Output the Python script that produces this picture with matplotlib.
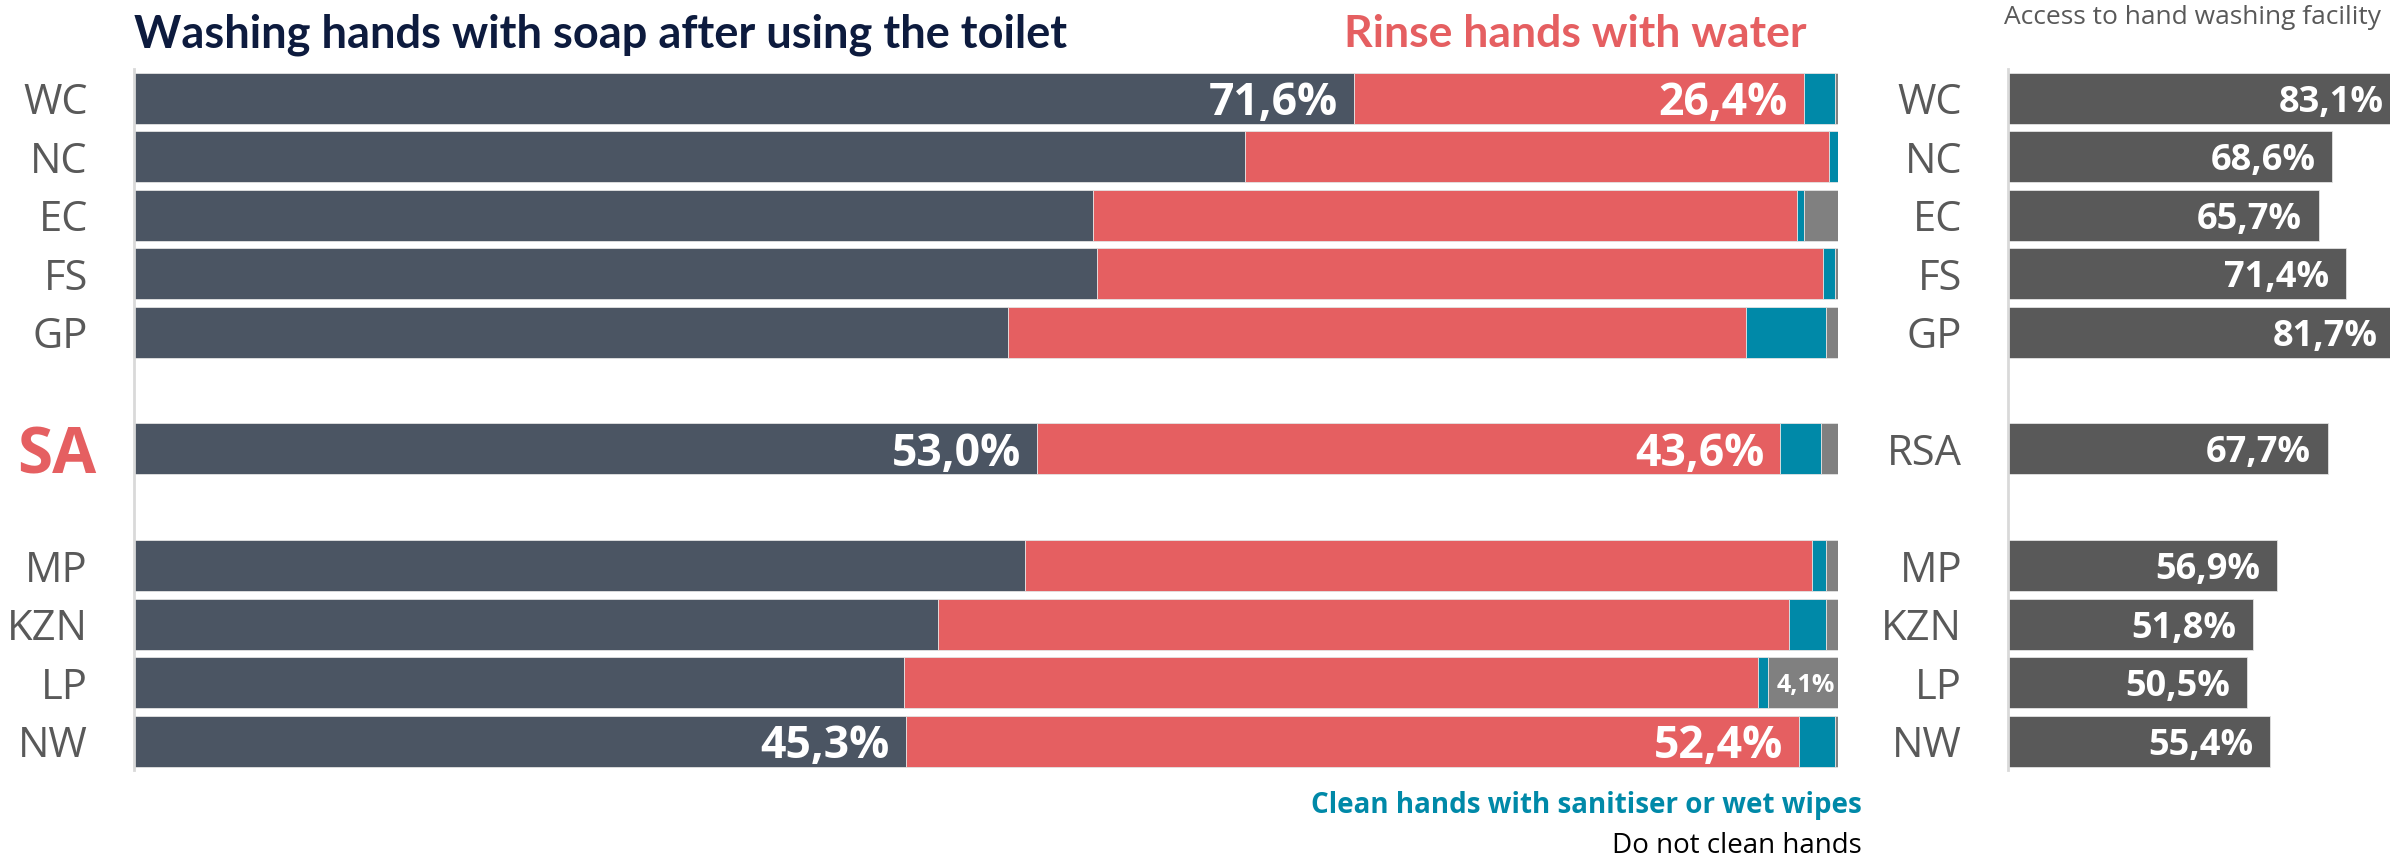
import matplotlib.pyplot as plt
import numpy as np

# provinces, top to bottom (gaps around the national figure)
regions = ["WC", "NC", "EC", "FS", "GP", "SA", "MP", "KZN", "LP", "NW"]
right_labels = ["WC", "NC", "EC", "FS", "GP", "RSA", "MP", "KZN", "LP", "NW"]
rows = [0, 1, 2, 3, 4, 6, 8, 9, 10, 11]

# % of households, how hands are cleaned after using the toilet
soap = [71.6, 65.2, 56.3, 56.5, 51.3, 53.0, 52.3, 47.2, 45.2, 45.3]
rinse = [26.4, 34.3, 41.3, 42.6, 43.3, 43.6, 46.2, 49.9, 50.1, 52.4]
sanitiser = [1.8, 0.5, 0.4, 0.7, 4.7, 2.4, 0.8, 2.2, 0.6, 2.1]
no_clean = [0.2, 0.0, 2.0, 0.2, 0.7, 1.0, 0.7, 0.7, 4.1, 0.2]

# % with access to a hand washing facility
access = [83.1, 68.6, 65.7, 71.4, 81.7, 67.7, 56.9, 51.8, 50.5, 55.4]

# which regions get value labels on the big segments
labelled = ["WC", "SA", "NW"]

c_soap = "#4B5563"
c_rinse = "#E55F61"
c_san = "#0089A8"
c_none = "#808080"
c_access = "#595959"
c_text = "#595959"

plt.rcParams["font.family"] = ["Open Sans", "DejaVu Sans"]
title_font = ["Lato", "Open Sans", "DejaVu Sans"]

fig = plt.figure(figsize=(23.9, 8.58), dpi=100)
ax = fig.add_axes([134 / 2390, 1 - 770.25 / 858, 1704 / 2390, 701 / 858])
ax2 = fig.add_axes([2008 / 2390, 1 - 770.25 / 858, 382 / 2390, 701 / 858])

y = np.array(rows)
h = 0.872
series = [soap, rinse, sanitiser, no_clean]
colors = [c_soap, c_rinse, c_san, c_none]
left = np.zeros(len(rows))
for vals, col in zip(series, colors):
    vals = np.array(vals)
    ax.barh(y, vals, left=left, height=h, color=col, edgecolor="#e3e3e3", linewidth=0.6)
    left += vals

def fmt(v):
    return f"{v:.1f}%".replace(".", ",")

off = 16 / 1704 * 100
for i, r in enumerate(regions):
    if r in labelled:
        ax.text(soap[i] - off, rows[i], fmt(soap[i]), ha="right", va="center_baseline",
                color="white", fontsize=32, fontweight="bold")
        ax.text(soap[i] + rinse[i] - off, rows[i], fmt(rinse[i]), ha="right",
                va="center_baseline", color="white", fontsize=32, fontweight="bold")
    if no_clean[i] > 3:
        ax.text(99.8, rows[i], fmt(no_clean[i]), ha="right", va="center_baseline",
                color="white", fontsize=18, fontweight="bold")

tr = ax.get_yaxis_transform()
for i, r in enumerate(regions):
    if r == "SA":
        ax.text(-0.0223, rows[i], r, transform=tr, ha="right", va="center_baseline",
                color=c_rinse, fontsize=46, fontweight="bold")
    else:
        ax.text(-0.027, rows[i], r, transform=tr, ha="right", va="center_baseline",
                color=c_text, fontsize=30)

ax.set_xlim(0, 100)
ax.set_ylim(11.5, -0.5)
ax.set_xticks([])
ax.set_yticks([])
for s in ["top", "right", "bottom"]:
    ax.spines[s].set_visible(False)
ax.spines["left"].set_color("#d9d9d9")
ax.spines["left"].set_linewidth(2)

# right panel: access to hand washing facility
ax2.barh(y, access, height=h, color=c_access, edgecolor="#e3e3e3", linewidth=0.6)
xmax = 382 / 4.73
off2 = 17 / 4.73
for i, v in enumerate(access):
    ax2.text(v - off2, rows[i], fmt(v), ha="right", va="center_baseline",
             color="white", fontsize=26, fontweight="bold")
tr2 = ax2.get_yaxis_transform()
for i, r in enumerate(right_labels):
    ax2.text(-0.1204, rows[i], r, transform=tr2, ha="right", va="center_baseline",
             color=c_text, fontsize=30)
ax2.set_xlim(0, xmax)
ax2.set_ylim(11.5, -0.5)
ax2.set_xticks([])
ax2.set_yticks([])
for s in ["top", "right", "bottom"]:
    ax2.spines[s].set_visible(False)
ax2.spines["left"].set_color("#d9d9d9")
ax2.spines["left"].set_linewidth(2)

# titles and legend-like captions
fig.text(134 / 2390, 1 - 47 / 858, "Washing hands with soap after using the toilet",
         ha="left", va="baseline", color="#0D1B3E", fontsize=32.5, fontweight="bold",
         family=title_font)
fig.text(1806 / 2390, 1 - 47 / 858, "Rinse hands with water", ha="right", va="baseline",
         color=c_rinse, fontsize=32, fontweight="bold", family=title_font)
fig.text(2381 / 2390, 1 - 17 / 858, "Access to hand washing facility", ha="right",
         va="center", color=c_text, fontsize=19)
fig.text(1862 / 2390, 1 - 805 / 858, "Clean hands with sanitiser or wet wipes", ha="right",
         va="center", color=c_san, fontsize=20, fontweight="bold")
fig.text(1862 / 2390, 1 - 846 / 858, "Do not clean hands", ha="right", va="center",
         color="black", fontsize=20)

fig.savefig("out.png", dpi=100)
